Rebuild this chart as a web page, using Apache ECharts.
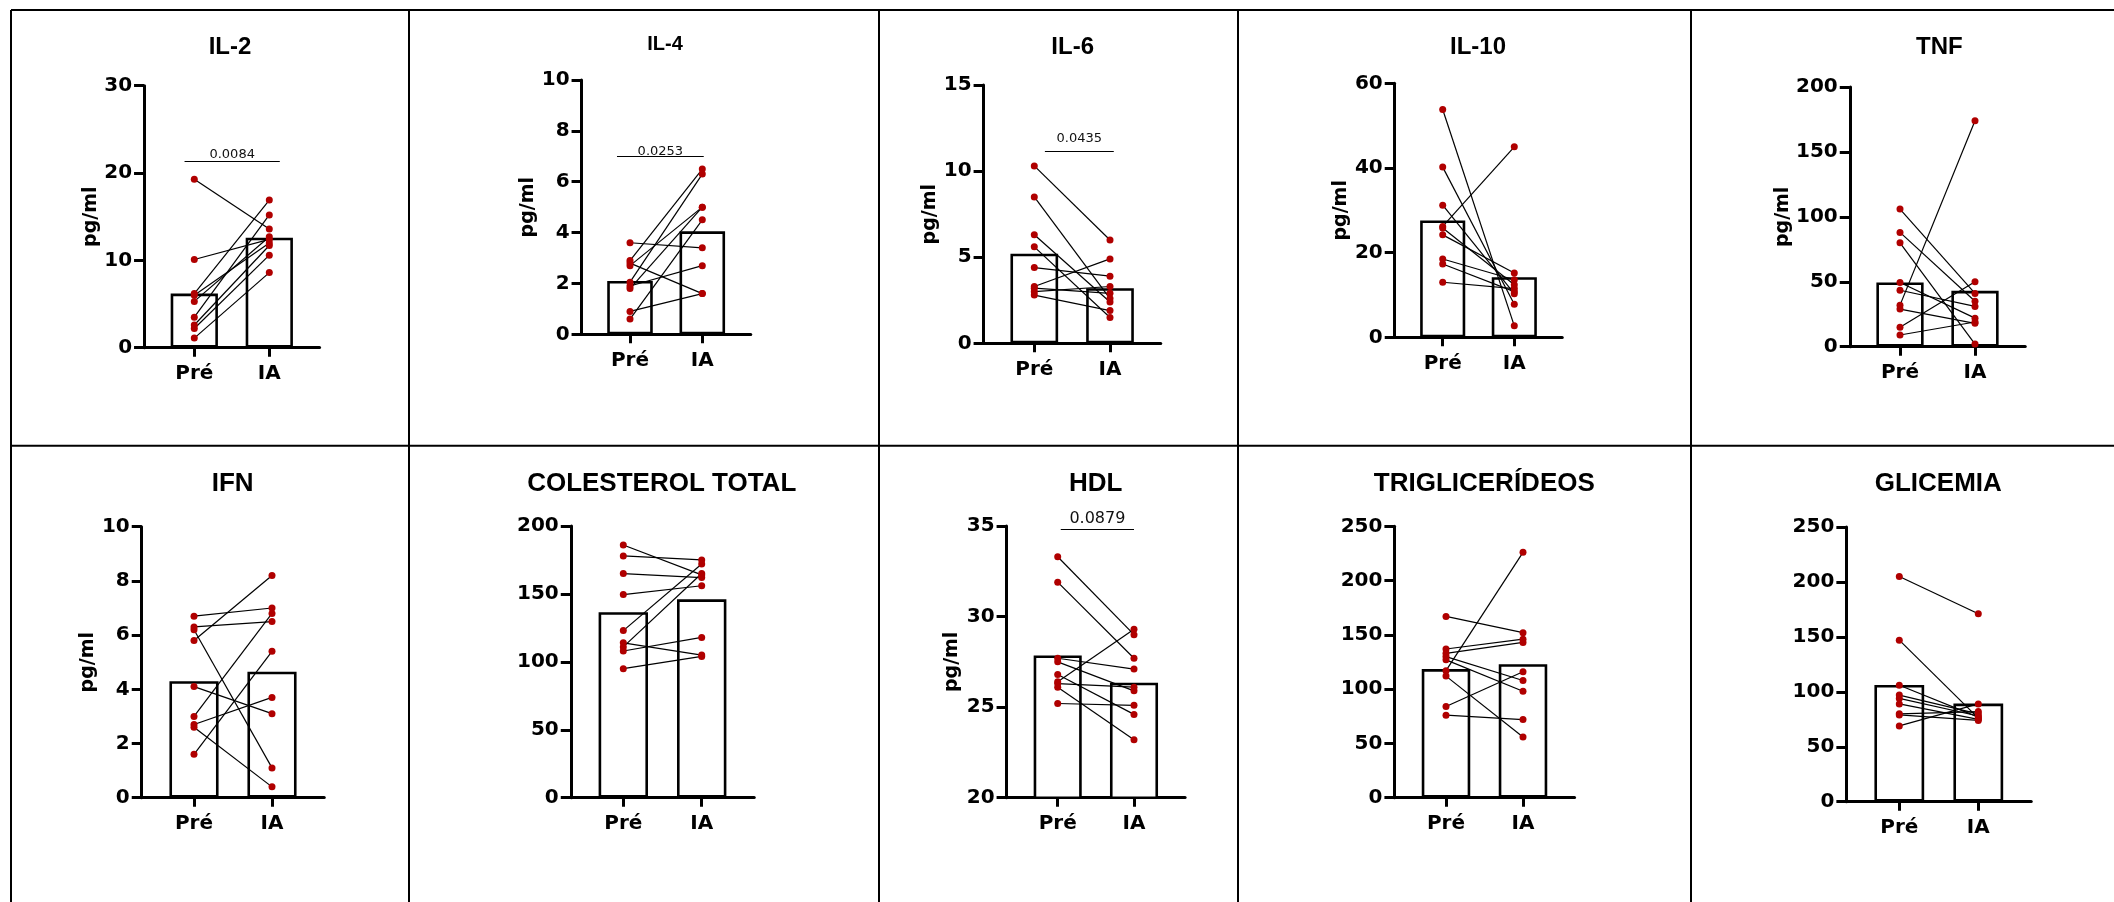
<!DOCTYPE html>
<html>
<head>
<meta charset="utf-8">
<title>Citocinas e perfil metabólico - Pré x IA</title>
<script src="https://cdn.jsdelivr.net/npm/echarts@6/dist/echarts.min.js"></script>
<style>
    html, body { margin: 0; padding: 0; background: #ffffff; }
    #chart { width: 2114px; height: 902px; }
</style>
</head>
<body>
<div id="chart"></div>
<script>
var groups = ['Pré', 'IA'];
var titles = ['IL-2', 'IL-4', 'IL-6', 'IL-10', 'TNF', 'IFN', 'COLESTEROL TOTAL', 'HDL', 'TRIGLICERÍDEOS', 'GLICEMIA'];
var yNames = ['pg/ml', 'pg/ml', 'pg/ml', 'pg/ml', 'pg/ml', 'pg/ml', '', 'pg/ml', '', ''];
var yMin = [0, 0, 0, 0, 0, 0, 0, 20, 0, 0];
var yMax = [30, 10, 15, 60, 200, 10, 200, 35, 250, 250];
var yStep = [10, 2, 5, 20, 50, 2, 50, 5, 50, 50];

// barras: média [Pré, IA]
var il2Bars = [6.2, 12.6];
var il4Bars = [2.1, 4.05];
var il6Bars = [5.2, 3.2];
var il10Bars = [27.6, 14.2];
var tnfBars = [49.5, 43];
var ifnBars = [4.3, 4.65];
var colBars = [136.5, 146];
var hdlBars = [27.85, 26.35];
var triBars = [118.5, 123];
var gliBars = [106.2, 89.3];

// pontos individuais, pareados pelo índice (Pré[i] -> IA[i])
var il2Pre = [19.3, 10.1, 6.2, 6.0, 5.3, 3.5, 2.6, 2.2, 1.1];
var il2Ia = [13.6, 12.4, 16.9, 12.0, 12.7, 15.2, 11.7, 10.6, 8.6];
var il4Pre = [3.6, 2.9, 2.8, 2.7, 2.05, 1.9, 1.8, 0.9, 0.6];
var il4Ia = [3.4, 6.5, 1.6, 5.0, 6.3, 2.7, 5.0, 1.6, 4.5];
var il6Pre = [10.3, 8.5, 6.3, 5.6, 4.4, 3.3, 3.2, 3.0, 2.8];
var il6Ia = [6.0, 2.6, 2.4, 1.5, 3.9, 4.9, 2.9, 3.3, 1.9];
var il10Pre = [53.8, 40.2, 31.2, 26.2, 25.8, 24.2, 18.5, 17.3, 13.0];
var il10Ia = [2.7, 7.8, 10.3, 45.0, 12.4, 15.2, 13.6, 10.8, 11.5];
var tnfPre = [106, 88, 80, 49.5, 43.5, 32, 29, 15, 9];
var tnfIa = [41, 35, 2, 22, 31, 174, 18, 50, 19];
var ifnPre = [6.7, 6.3, 6.2, 5.8, 4.1, 3.0, 2.7, 2.6, 1.6];
var ifnIa = [7.0, 6.5, 1.1, 8.2, 3.1, 6.8, 3.7, 0.4, 5.4];
var colPre = [186, 178, 165, 149.5, 123, 114, 111, 108, 95];
var colIa = [164, 175, 162, 156, 172, 105, 165, 118, 104];
var hdlPre = [33.3, 31.9, 27.7, 27.5, 26.8, 26.4, 26.3, 26.1, 25.2];
var hdlIa = [29.0, 27.7, 27.1, 25.9, 24.6, 29.3, 26.1, 23.2, 25.1];
var triPre = [167, 137, 133, 130, 127, 117, 112, 84, 76];
var triIa = [152, 146, 143, 108, 98, 226, 56, 116, 72];
var gliPre = [205, 147, 106, 97, 94, 89, 80, 79, 69];
var gliIa = [171, 76, 77, 80, 78, 75, 82, 74, 89];

// valor de p e a linha de comparação (y, x inicial, x final)
var pValues = ['0.0084', '0.0253', '0.0435', '', '', '', '', '0.0879', '', ''];
var pLineY = [21.3, 7.0, 11.15, null, null, null, null, 34.8, null, null];
var pLineX = [[-0.13, 1.14], [-0.18, 1.02], [0.14, 1.05], null, null, null, null, [0.04, 1.0], null, null];

var bars = [il2Bars, il4Bars, il6Bars, il10Bars, tnfBars, ifnBars, colBars, hdlBars, triBars, gliBars];
var pre = [il2Pre, il4Pre, il6Pre, il10Pre, tnfPre, ifnPre, colPre, hdlPre, triPre, gliPre];
var ia = [il2Ia, il4Ia, il6Ia, il10Ia, tnfIa, ifnIa, colIa, hdlIa, triIa, gliIa];

// posição de cada painel em px: centro Pré, centro IA, topo e base do eixo y, título
var layout = [
    {p: 194.3, q: 269.3, top: 85.7, bottom: 347.7, tx: 230, ty: 45, ts: 24, gap: 42, pd: 1, ps: 13},
    {p: 630, q: 702.3, top: 80, bottom: 334.3, tx: 665, ty: 41, ts: 20, gap: 40, pd: -2, ps: 13},
    {p: 1034.3, q: 1110, top: 85, bottom: 343.3, tx: 1072.7, ty: 45, ts: 24, gap: 40, pd: 6, ps: 13},
    {p: 1442.7, q: 1514.3, top: 83.3, bottom: 337.3, tx: 1478, ty: 45, ts: 24, gap: 43, pd: 3, ps: 13},
    {p: 1900, q: 1975, top: 87, bottom: 346.7, tx: 1939.3, ty: 45, ts: 24, gap: 56, pd: 3, ps: 13},
    {p: 194, q: 272, top: 526.7, bottom: 797.7, tx: 232.7, ty: 481.7, ts: 26, gap: 40, pd: 3, ps: 13},
    {p: 623.3, q: 701.7, top: 526, bottom: 797.7, tx: 661.7, ty: 481.7, ts: 26, gap: 50, pd: 3, ps: 13},
    {p: 1057.7, q: 1134, top: 526, bottom: 797.7, tx: 1095.7, ty: 481.7, ts: 26, gap: 45, pd: 3, ps: 16},
    {p: 1446, q: 1523, top: 526.3, bottom: 797.7, tx: 1484.3, ty: 481.7, ts: 26, gap: 55, pd: 3, ps: 13},
    {p: 1899.3, q: 1978.3, top: 527, bottom: 801.7, tx: 1938.3, ty: 481.7, ts: 26, gap: 55, pd: 3, ps: 13}
];

var FONT = '"Liberation Sans", Arial, sans-serif';
var AXIS_FONT = '"DejaVu Sans", sans-serif';
var X_MIN = -0.67, X_MAX = 1.67;

var chart = echarts.init(document.getElementById('chart'), null, {renderer: 'canvas'});

var grid = [], xAxis = [], yAxis = [], series = [], title = [];

titles.forEach(function (name, i) {
    var l = layout[i];
    var d = l.q - l.p;
    var left = l.p + X_MIN * d;
    grid.push({
        left: left,
        top: l.top,
        width: (X_MAX - X_MIN) * d,
        height: l.bottom - l.top
    });
    title.push({
        text: name,
        left: l.tx,
        top: l.ty - l.ts * 0.6,
        padding: [5, 0, 5, 0],
        textAlign: 'center',
        textStyle: {fontFamily: FONT, fontSize: l.ts, fontWeight: 'bold', color: '#000'}
    });
    xAxis.push({
        type: 'value',
        gridIndex: i,
        min: X_MIN,
        max: X_MAX,
        splitLine: {show: false},
        axisLine: {show: true, onZero: false, lineStyle: {color: '#000', width: 3}},
        axisTick: {show: true, customValues: [0, 1], length: 9, lineStyle: {color: '#000', width: 3}},
        axisLabel: {
            customValues: [0, 1],
            margin: 16,
            fontFamily: AXIS_FONT, fontSize: 20, fontWeight: 'bold', color: '#000',
            formatter: function (v) { return groups[Math.round(v)]; }
        }
    });
    yAxis.push({
        type: 'value',
        gridIndex: i,
        min: yMin[i],
        max: yMax[i],
        interval: yStep[i],
        name: yNames[i],
        nameLocation: 'middle',
        nameRotate: 90,
        nameGap: l.gap,
        nameTextStyle: {fontFamily: AXIS_FONT, fontSize: 19, fontWeight: 'bold', color: '#000'},
        splitLine: {show: false},
        axisLine: {show: true, onZero: false, lineStyle: {color: '#000', width: 3}},
        axisTick: {show: true, length: 10, lineStyle: {color: '#000', width: 3}},
        axisLabel: {margin: 12, fontFamily: AXIS_FONT, fontSize: 20, fontWeight: 'bold', color: '#000'}
    });

    var barSeries = {
        type: 'bar',
        xAxisIndex: i,
        yAxisIndex: i,
        barWidth: 0.63 * d,
        data: [[0, bars[i][0]], [1, bars[i][1]]],
        itemStyle: {color: '#ffffff', borderColor: '#000', borderWidth: 2.6},
        z: 1
    };
    if (pLineY[i] !== null) {
        barSeries.markLine = {
            silent: true,
            symbol: 'none',
            lineStyle: {color: '#000', width: 1.2, type: 'solid'},
            label: {
                show: true, position: 'middle', distance: l.pd,
                formatter: pValues[i],
                fontFamily: AXIS_FONT, fontSize: l.ps, color: '#111'
            },
            data: [[{coord: [pLineX[i][0], pLineY[i]]}, {coord: [pLineX[i][1], pLineY[i]]}]]
        };
    }
    series.push(barSeries);

    series.push({
        type: 'lines',
        coordinateSystem: 'cartesian2d',
        xAxisIndex: i,
        yAxisIndex: i,
        silent: true,
        lineStyle: {color: '#000', width: 1.2, opacity: 1},
        data: pre[i].map(function (v, k) {
            return {coords: [[0, v], [1, ia[i][k]]]};
        }),
        z: 3
    });

    series.push({
        type: 'scatter',
        xAxisIndex: i,
        yAxisIndex: i,
        symbolSize: 7,
        itemStyle: {color: '#b00000', opacity: 1},
        data: pre[i].map(function (v) { return [0, v]; })
            .concat(ia[i].map(function (v) { return [1, v]; })),
        z: 4
    });
});

// moldura dos painéis
var borders = [
    [11, 10, 2114, 10],
    [11, 445.7, 2114, 445.7],
    [11, 10, 11, 902],
    [409, 10, 409, 902],
    [879, 10, 879, 902],
    [1238, 10, 1238, 902],
    [1691, 10, 1691, 902]
];

chart.setOption({
    animation: false,
    backgroundColor: '#ffffff',
    title: title,
    grid: grid,
    xAxis: xAxis,
    yAxis: yAxis,
    series: series,
    graphic: borders.map(function (b) {
        return {
            type: 'line',
            silent: true,
            shape: {x1: b[0], y1: b[1], x2: b[2], y2: b[3]},
            style: {stroke: '#000', lineWidth: 2}
        };
    })
});
</script>
</body>
</html>
